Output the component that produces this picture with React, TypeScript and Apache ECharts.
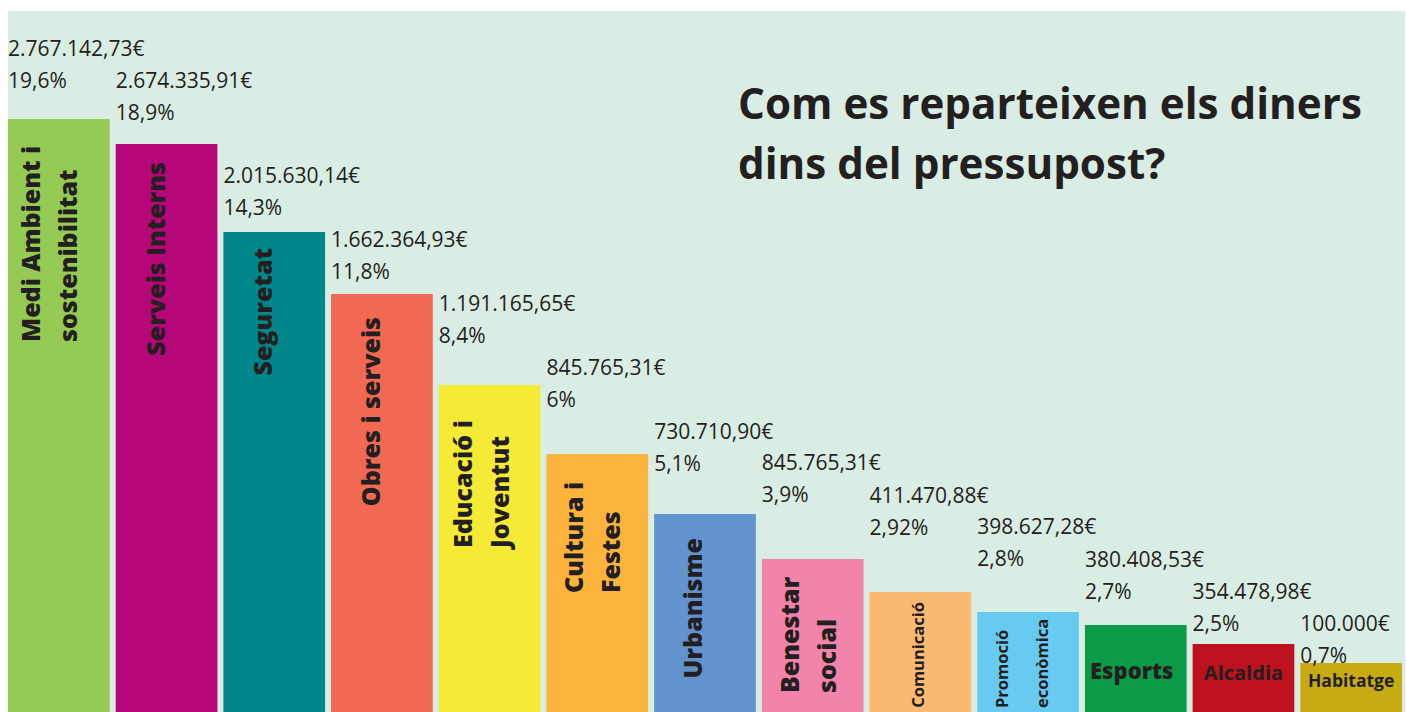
import React, { useEffect, useRef } from "react";
import * as echarts from "echarts";

// ---------- data ----------
const categories = [
  "Medi Ambient i\nsostenibilitat",
  "Serveis Interns",
  "Seguretat",
  "Obres i serveis",
  "Educació i\nJoventut",
  "Cultura i\nFestes",
  "Urbanisme",
  "Benestar\nsocial",
  "Comunicació",
  "Promoció\neconòmica",
  "Esports",
  "Alcaldia",
  "Habitatge",
];
const amounts = [
  "2.767.142,73€",
  "2.674.335,91€",
  "2.015.630,14€",
  "1.662.364,93€",
  "1.191.165,65€",
  "845.765,31€",
  "730.710,90€",
  "845.765,31€",
  "411.470,88€",
  "398.627,28€",
  "380.408,53€",
  "354.478,98€",
  "100.000€",
];
const percents = [
  "19,6%", "18,9%", "14,3%", "11,8%", "8,4%", "6%", "5,1%",
  "3,9%", "2,92%", "2,8%", "2,7%", "2,5%", "0,7%",
];
// visual bar lengths as drawn in the picture (arbitrary units)
const barHeights = [593, 568, 480, 418, 327, 258, 198, 153, 120, 100, 87, 68, 49];

// ---------- styles / layout ----------
const colors = [
  "#95cb55", "#b5067a", "#00878a", "#f26953", "#f5eb37", "#fbb33c", "#6393cf",
  "#f283aa", "#fcb972", "#69caf1", "#0b9a47", "#be111e", "#c8ab12",
];
const TEXT = "#231f20";
const BG = "#daede5";
const FONT = "'Open Sans', 'Noto Sans', sans-serif";
const BAR_W = 101.7;
// how high the two-line value label box sits above each bar top
const valueLabelRaise = [87, 80, 73, 71, 98, 103, 99, 113, 113, 102, 82, 69, 56];
// inner name label layout: mode start = rotated anchored at text start,
// end = rotated anchored at text end, flat = horizontal
const nameLayout = [
  { mode: "start", size: 25, w: 800, along: 223, across: -10.5, lh: 37 },
  { mode: "end", size: 25, w: 800, along: 18, across: -11.5, lh: 30 },
  { mode: "end", size: 25, w: 800, along: 16, across: -12, lh: 30 },
  { mode: "end", size: 25, w: 800, along: 23, across: -12, lh: 30 },
  { mode: "start", size: 25, w: 800, along: 163, across: -9, lh: 37 },
  { mode: "start", size: 25, w: 800, along: 139, across: -6, lh: 37 },
  { mode: "end", size: 25, w: 800, along: 24, across: -13, lh: 30 },
  { mode: "start", size: 25, w: 800, along: 134, across: -5, lh: 37 },
  { mode: "end", size: 16.5, w: 700, along: 10, across: -3, lh: 22 },
  { mode: "start", size: 16.5, w: 700, along: 96, across: -7, lh: 40 },
  { mode: "flat", size: 22, w: 800, along: 45, across: -4, lh: 26 },
  { mode: "flat", size: 20, w: 700, along: 28, across: 0, lh: 24 },
  { mode: "flat", size: 17.5, w: 700, along: 17, across: 0, lh: 21 },
];

export default function App() {
  const ref = useRef<HTMLDivElement>(null);
  useEffect(() => {
    if (!ref.current) return;
    const chart = echarts.init(ref.current, undefined, { renderer: "svg" });

    const mainData = barHeights.map((v, i) => {
      const L = nameLayout[i];
      const common: any = {
        show: true,
        color: TEXT,
        fontFamily: FONT,
        fontWeight: L.w,
        fontSize: L.size,
        lineHeight: L.lh,
        position: [BAR_W / 2 + L.across, L.along],
        verticalAlign: "middle",
      };
      if (L.mode === "flat") {
        common.align = "center";
        common.rotate = 0;
      } else {
        common.rotate = 90;
        common.align = L.mode === "start" ? "left" : "right";
      }
      return { value: v, itemStyle: { color: colors[i] }, label: common };
    });

    const valueData = barHeights.map((v, i) => ({
      value: v,
      label: { position: [0, -valueLabelRaise[i]] },
    }));

    chart.setOption({
      animation: false,
      backgroundColor: "#ffffff",
      title: {
        text: "Com es reparteixen els diners\ndins del pressupost?",
        left: 738,
        top: 72,
        padding: 0,
        textStyle: {
          color: TEXT,
          fontFamily: FONT,
          fontWeight: "bold",
          fontSize: 42.2,
          lineHeight: 60,
        },
      },
      graphic: [
        {
          type: "rect",
          z: -10,
          silent: true,
          shape: { x: 8, y: 11, width: 1397, height: 701 },
          style: { fill: BG },
        },
      ],
      grid: { left: 5, right: 1, top: 11, bottom: 0 },
      xAxis: {
        type: "category",
        data: categories,
        show: false,
      },
      yAxis: { type: "value", min: 0, max: 701, show: false },
      series: [
        {
          type: "bar",
          data: mainData,
          barWidth: BAR_W,
          barGap: "-100%",
          silent: true,
          z: 2,
          label: {
            show: true,
            formatter: (p: any) => categories[p.dataIndex],
          },
        },
        {
          type: "bar",
          data: valueData,
          barWidth: BAR_W,
          barGap: "-100%",
          silent: true,
          z: 3,
          itemStyle: { color: "rgba(0,0,0,0)" },
          label: {
            show: true,
            align: "left",
            verticalAlign: "top",
            color: TEXT,
            fontFamily: FONT,
            fontSize: 21,
            lineHeight: 32,
            formatter: (p: any) => amounts[p.dataIndex] + "\n" + percents[p.dataIndex],
          },
        },
      ],
    });
    return () => chart.dispose();
  }, []);
  return (
    <div
      ref={ref}
      style={{ position: "absolute", left: 0, top: 0, width: 1406, height: 712 }}
    />
  );
}
